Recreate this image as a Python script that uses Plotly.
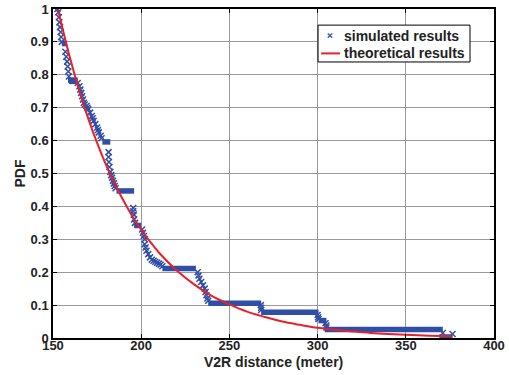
import plotly.graph_objects as go

# ---------------- data ----------------
# theoretical curve
theo_x = [153, 155, 160, 165, 170, 175, 180, 185, 190, 195, 200, 205, 210, 220, 230,
          240, 250, 260, 270, 280, 290, 300, 310, 320, 330, 340, 350, 360, 370, 376]
theo_y = [0.995, 0.95, 0.844, 0.750, 0.667, 0.593, 0.527, 0.469, 0.417, 0.370, 0.329,
          0.293, 0.260, 0.206, 0.163, 0.128, 0.102, 0.080, 0.064, 0.050, 0.040, 0.031,
          0.025, 0.020, 0.0155, 0.0122, 0.0097, 0.0077, 0.0060, 0.0053]

# simulated results: individual markers (descending parts / isolated points)
sim_x = [152.5, 153, 153.3, 153.6, 154, 154.3, 154.6, 155,
         157, 157.5, 158, 158.3, 158.7, 159,
         164, 165, 165.5, 166, 166.5, 167, 167.5, 168, 169, 169.5, 170, 171, 172, 172.5,
         173, 174, 175, 175.5, 176, 177, 177.5,
         181.5, 181.5, 181.7, 182, 182.5, 183, 183.5, 184, 184.5, 185, 185.5,
         195.5, 195.5, 195.8, 196, 196.5,
         200.5, 201, 201.5, 202, 202, 202.5, 203, 204, 205, 206, 207, 208, 209, 210, 211, 212,
         232, 232.5, 233, 234, 235, 236, 236.5, 237, 237.5, 238,
         267.8, 268, 268,
         300, 300.3, 300.5,
         304.5, 305, 305,
         371, 376.5]
sim_y = [1.0, 0.99, 0.975, 0.96, 0.945, 0.93, 0.915, 0.90,
         0.87, 0.855, 0.84, 0.825, 0.81, 0.795,
         0.775, 0.765, 0.755, 0.745, 0.735, 0.725, 0.715, 0.71, 0.705, 0.70, 0.695, 0.685, 0.675, 0.668,
         0.66, 0.65, 0.64, 0.632, 0.625, 0.615, 0.607,
         0.565, 0.55, 0.535, 0.52, 0.505, 0.495, 0.487, 0.478, 0.47, 0.462, 0.455,
         0.395, 0.385, 0.375, 0.36, 0.35,
         0.33, 0.32, 0.31, 0.30, 0.285, 0.275, 0.265, 0.255, 0.245, 0.238, 0.235, 0.232, 0.229, 0.226, 0.223, 0.218,
         0.20, 0.19, 0.18, 0.17, 0.16, 0.15, 0.14, 0.13, 0.12, 0.113,
         0.10, 0.092, 0.085,
         0.07, 0.063, 0.058,
         0.045, 0.038, 0.032,
         0.015, 0.012]

# simulated results: flat runs of densely packed markers (start x, end x, level)
run_x0 = [155, 158.5, 159, 178, 186, 196, 212, 238, 268, 300.5, 304, 369]
run_x1 = [158, 164, 164, 182.5, 196, 200, 231, 268, 300.5, 305, 371, 376.5]
run_y = [0.895, 0.784, 0.78, 0.596, 0.447, 0.342, 0.211, 0.106, 0.078, 0.053, 0.026, 0.003]

x_ticks = [150, 200, 250, 300, 350, 400]
y_ticks = [0, 0.1, 0.2, 0.3, 0.4, 0.5, 0.6, 0.7, 0.8, 0.9, 1]
y_tick_text = ["0", "0.1", "0.2", "0.3", "0.4", "0.5", "0.6", "0.7", "0.8", "0.9", "1"]

legend_labels = ["simulated results", "theoretical results"]

BLUE = "#2F4FA6"
RED = "#E8202A"
FAM = "Arial, Liberation Sans, sans-serif"
TXT = "#222222"

# ---------------- figure ----------------
run_px, run_py = [], []
for a, b, yv in zip(run_x0, run_x1, run_y):
    run_px += [a, b, None]
    run_py += [yv, yv, None]

fig = go.Figure()
fig.add_trace(go.Scatter(x=run_px, y=run_py, mode="lines",
                         line=dict(color=BLUE, width=5.5), showlegend=False,
                         hoverinfo="skip"))
fig.add_trace(go.Scatter(x=sim_x, y=sim_y, mode="markers", name=legend_labels[0],
                         showlegend=False,
                         marker=dict(symbol="x-thin", size=6, color=BLUE,
                                     line=dict(color=BLUE, width=1.5))))
fig.add_trace(go.Scatter(x=theo_x, y=theo_y, mode="lines", name=legend_labels[1],
                         showlegend=False,
                         line=dict(color=RED, width=2, shape="spline")))

tick_font = dict(family=FAM, size=13, color=TXT)

# ---- legend box drawn by hand (paper coordinates of the plot area) ----
LX0, LX1, LY0, LY1 = 0.601, 0.9456, 0.839, 0.951
ROW1, ROW2 = 0.919, 0.865
MX, DX, DY = 0.628, 0.0050, 0.0065
shapes = [
    dict(type="rect", xref="paper", yref="paper", x0=LX0, x1=LX1, y0=LY0, y1=LY1,
         line=dict(color="black", width=1), fillcolor="white", layer="above"),
    dict(type="line", xref="paper", yref="paper", x0=MX - DX, x1=MX + DX,
         y0=ROW1 - DY, y1=ROW1 + DY, line=dict(color=BLUE, width=1.2), layer="above"),
    dict(type="line", xref="paper", yref="paper", x0=MX - DX, x1=MX + DX,
         y0=ROW1 + DY, y1=ROW1 - DY, line=dict(color=BLUE, width=1.2), layer="above"),
    dict(type="line", xref="paper", yref="paper", x0=0.608, x1=0.651,
         y0=ROW2, y1=ROW2, line=dict(color=RED, width=2), layer="above"),
]
annotations = [
    dict(text="<b>%s</b>" % legend_labels[0], xref="paper", yref="paper", x=0.655, y=ROW1,
         xanchor="left", yanchor="middle", showarrow=False,
         font=dict(family=FAM, size=14, color=TXT)),
    dict(text="<b>%s</b>" % legend_labels[1], xref="paper", yref="paper", x=0.655, y=ROW2,
         xanchor="left", yanchor="middle", showarrow=False,
         font=dict(family=FAM, size=14, color=TXT)),
    dict(text="<b>V2R distance (meter)</b>", xref="paper", yref="paper", x=0.5, y=-0.073,
         xanchor="center", yanchor="middle", showarrow=False,
         font=dict(family=FAM, size=14, color=TXT)),
    dict(text="<b>PDF</b>", xref="paper", yref="paper", x=-0.077, y=0.5, textangle=-90,
         xanchor="center", yanchor="middle", showarrow=False,
         font=dict(family=FAM, size=14, color=TXT)),
]

fig.update_layout(
    width=509, height=375,
    margin=dict(l=53, r=15, t=9, b=37, autoexpand=False),
    paper_bgcolor="white", plot_bgcolor="white",
    showlegend=False,
    shapes=shapes, annotations=annotations,
    xaxis=dict(range=[150, 400], tickvals=x_ticks,
               ticktext=["<b>%d</b>" % v for v in x_ticks],
               showgrid=True, gridcolor="#9a9a9a", gridwidth=1,
               showline=True, linecolor="black", linewidth=1.5, mirror="ticks",
               ticks="inside", ticklen=4, tickcolor="black",
               tickfont=tick_font, zeroline=False, automargin=False,
               ticklabelstandoff=-5),
    yaxis=dict(range=[0, 1], tickvals=y_ticks,
               ticktext=["<b>%s</b>" % t for t in y_tick_text],
               showgrid=True, gridcolor="#9a9a9a", gridwidth=1,
               showline=True, linecolor="black", linewidth=1.5, mirror="ticks",
               ticks="inside", ticklen=4, tickcolor="black",
               tickfont=tick_font, zeroline=False, automargin=False),
)

# remove the page's default 8px body margin so the figure sits at the top-left corner
fig.write_html("out.html", config={"displayModeBar": False},
               post_script="document.body.style.margin='0px';")
